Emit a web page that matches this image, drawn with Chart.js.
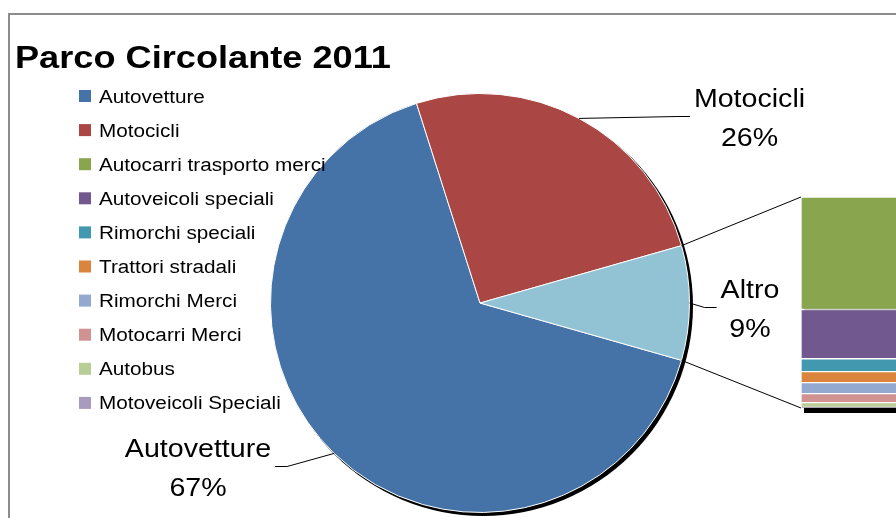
<!DOCTYPE html>
<html>
<head>
<meta charset="utf-8">
<title>Parco Circolante 2011</title>
<script src="https://cdn.jsdelivr.net/npm/chart.js@4.4.1/dist/chart.umd.min.js"></script>
<style>
  html, body { margin: 0; padding: 0; background: #ffffff; overflow: hidden; width: 896px; height: 518px; }
  #wrap { position: relative; width: 896px; height: 518px; overflow: hidden; }
  #frame { position: absolute; left: 8px; top: 13px; width: 1000px; height: 1000px;
           border-left: 2px solid #8c8c8c; border-top: 2px solid #8c8c8c; }
  canvas { position: absolute; left: 0; top: 0; }
</style>
</head>
<body>
<div id="wrap">
  <div id="frame"></div>
  <canvas id="pie" width="1000" height="518"></canvas>
  <canvas id="bar" width="1000" height="518"></canvas>
</div>
<script>
// ---- data ----
const titleText = 'Parco Circolante 2011';

// main pie: the two largest groups plus the aggregated "Altro" slice (percent)
const pieLabels = ['Autovetture', 'Motocicli', 'Altro'];
const pieValues = [67, 26, 9];
const pieColors = ['#4572A7', '#AA4643', '#92C3D5'];

// breakdown of "Altro" shown in the side bar (percent of total)
const otherLabels = ['Autocarri trasporto merci', 'Autoveicoli speciali', 'Rimorchi speciali',
                     'Trattori stradali', 'Rimorchi Merci', 'Motocarri Merci', 'Autobus',
                     'Motoveicoli Speciali'];
const otherValues = [4.8, 2.1, 0.55, 0.47, 0.47, 0.38, 0.2, 0.03];
const otherColors = ['#89A54E', '#71588F', '#4198AF', '#DB843D', '#93A9CF', '#D19392',
                     '#B9CD96', '#A99BBD'];

// legend lists every vehicle category
const legendLabels = [pieLabels[0], pieLabels[1]].concat(otherLabels);
const legendColors = [pieColors[0], pieColors[1]].concat(otherColors);

// ---- layout / styling ----
const FONT = "'Liberation Sans', Arial, Helvetica, sans-serif";
const TEXT_STRETCH = 1.1;          // slightly wide lettering of the original typeface
const labelFontSize = 26;
const labelLineGap = 39;
// placement of each slice label block: horizontal centre, first baseline, side the leader enters
const labelPlacement = [
  { cx: 198,   y: 457, side: 'right' },
  { cx: 749.5, y: 107, side: 'left' },
  { cx: 750,   y: 298, side: 'left' }
];

function drawText(ctx, str, x, y, font, sx, align) {
  ctx.save();
  ctx.font = font;
  ctx.textAlign = align;
  ctx.textBaseline = 'alphabetic';
  ctx.fillStyle = '#000000';
  ctx.translate(x, y);
  ctx.scale(sx, 1);
  ctx.fillText(str, 0, 0);
  ctx.restore();
}
function textWidth(ctx, str, font, sx) {
  ctx.save(); ctx.font = font; const w = ctx.measureText(str).width * sx; ctx.restore();
  return w;
}

const pieTotal = pieValues.reduce((a, b) => a + b, 0);
const otherTotal = otherValues.reduce((a, b) => a + b, 0);
// "Altro" slice centred on the right-hand side, facing the bar
const altroDeg = pieValues[2] / pieTotal * 360;
const pieRotation = 90 + altroDeg / 2;

// drop shadow under the pie
const pieShadow = {
  id: 'pieShadow',
  beforeDatasetsDraw(chart) {
    const arc = chart.getDatasetMeta(0).data[0];
    if (!arc) return;
    const ctx = chart.ctx;
    ctx.save();
    ctx.fillStyle = '#000000';
    ctx.beginPath();
    ctx.arc(arc.x + 3, arc.y + 3, arc.outerRadius + 0.5, 0, Math.PI * 2);
    ctx.fill();
    ctx.restore();
  }
};

// slice labels with leader lines
const sliceLabels = {
  id: 'sliceLabels',
  afterDatasetsDraw(chart) {
    const ctx = chart.ctx;
    const meta = chart.getDatasetMeta(0);
    const font = labelFontSize + 'px ' + FONT;
    meta.data.forEach((arc, i) => {
      const p = labelPlacement[i];
      const line1 = chart.data.labels[i];
      const line2 = Math.round(chart.data.datasets[0].data[i]) + '%';
      const w = Math.max(textWidth(ctx, line1, font, TEXT_STRETCH), textWidth(ctx, line2, font, TEXT_STRETCH));
      const mid = (arc.startAngle + arc.endAngle) / 2;
      const ex = arc.x + Math.cos(mid) * arc.outerRadius;
      const ey = arc.y + Math.sin(mid) * arc.outerRadius;
      const ly = p.y + 9.5;
      const lx = p.side === 'left' ? p.cx - w / 2 - 4 : p.cx + w / 2 + 4;
      const kx = p.side === 'left' ? lx - 12 : lx + 12;
      ctx.save();
      ctx.strokeStyle = '#000000';
      ctx.lineWidth = 1;
      ctx.beginPath();
      ctx.moveTo(ex, ey);
      ctx.lineTo(kx, ly);
      ctx.lineTo(lx, ly);
      ctx.stroke();
      ctx.restore();
      drawText(ctx, line1, p.cx, p.y, font, TEXT_STRETCH, 'center');
      drawText(ctx, line2, p.cx, p.y + labelLineGap, font, TEXT_STRETCH, 'center');
    });
  }
};

// title and category legend
const titleLegend = {
  id: 'titleLegend',
  afterDraw(chart) {
    const ctx = chart.ctx;
    drawText(ctx, titleText, 15, 68, 'bold 32px ' + FONT, 1.13, 'left');
    const f = '18px ' + FONT;
    legendLabels.forEach((lab, i) => {
      const cy = 96 + i * 34.1;
      ctx.save();
      ctx.fillStyle = legendColors[i];
      ctx.fillRect(79, cy - 6, 12, 12);
      ctx.restore();
      drawText(ctx, lab, 99, cy + 6.5, f, 1.15, 'left');
    });
  }
};

const pieChart = new Chart(document.getElementById('pie'), {
  type: 'pie',
  data: {
    labels: pieLabels,
    datasets: [{
      data: pieValues,
      backgroundColor: pieColors,
      borderColor: '#ffffff',
      borderWidth: 1,
      rotation: pieRotation
    }]
  },
  options: {
    responsive: false,
    animation: false,
    events: [],
    layout: { padding: { left: 270, top: 93, right: 310, bottom: 5 } },
    plugins: { legend: { display: false }, tooltip: { enabled: false }, title: { display: false } }
  },
  plugins: [pieShadow, sliceLabels, titleLegend]
});

// shadow under the stacked bar
const barShadow = {
  id: 'barShadow',
  beforeDatasetsDraw(chart) {
    const n = chart.data.datasets.length;
    const bottomEl = chart.getDatasetMeta(0).data[0];
    const topEl = chart.getDatasetMeta(n - 1).data[0];
    if (!bottomEl || !topEl) return;
    const left = bottomEl.x - bottomEl.width / 2;
    const top = topEl.y;
    const bottom = bottomEl.base;
    const ctx = chart.ctx;
    ctx.save();
    ctx.fillStyle = '#000000';
    ctx.fillRect(left + 3, top + 4, bottomEl.width, bottom - top + 1);
    ctx.restore();
  }
};

// lines joining the "Altro" slice to the bar
const connectors = {
  id: 'connectors',
  afterDraw(chart) {
    const n = chart.data.datasets.length;
    const bottomEl = chart.getDatasetMeta(0).data[0];
    const topEl = chart.getDatasetMeta(n - 1).data[0];
    const altro = pieChart.getDatasetMeta(0).data[2];
    if (!bottomEl || !topEl || !altro) return;
    const left = bottomEl.x - bottomEl.width / 2;
    const r = altro.outerRadius;
    const sx = altro.x + Math.cos(altro.startAngle) * r, sy = altro.y + Math.sin(altro.startAngle) * r;
    const ex = altro.x + Math.cos(altro.endAngle) * r, ey = altro.y + Math.sin(altro.endAngle) * r;
    const ctx = chart.ctx;
    ctx.save();
    ctx.strokeStyle = '#000000';
    ctx.lineWidth = 1;
    ctx.beginPath();
    ctx.moveTo(sx, sy); ctx.lineTo(left, topEl.y);
    ctx.moveTo(ex, ey); ctx.lineTo(left, bottomEl.base);
    ctx.stroke();
    ctx.restore();
  }
};

const barDatasets = otherLabels.map((lab, i) => ({
  label: lab,
  data: [otherValues[i]],
  backgroundColor: otherColors[i],
  borderColor: '#ffffff',
  borderWidth: 1,
  borderSkipped: false,
  categoryPercentage: 1,
  barPercentage: 1
})).reverse();   // first category sits on top of the stack

const barChart = new Chart(document.getElementById('bar'), {
  type: 'bar',
  data: { labels: ['Altro'], datasets: barDatasets },
  options: {
    responsive: false,
    animation: false,
    events: [],
    layout: { padding: { left: 801, right: 84, top: 197, bottom: 110 } },
    scales: {
      x: { stacked: true, display: false },
      y: { stacked: true, display: false, min: 0, max: otherTotal }
    },
    plugins: { legend: { display: false }, tooltip: { enabled: false } }
  },
  plugins: [barShadow, connectors]
});
</script>
</body>
</html>
